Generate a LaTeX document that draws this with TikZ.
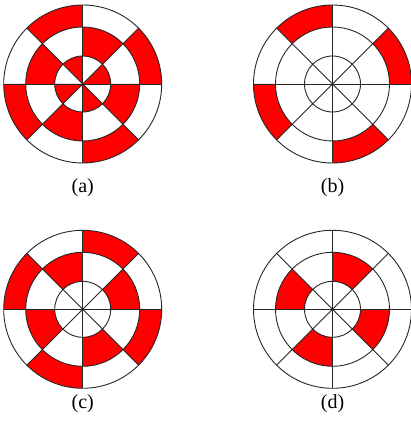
\documentclass[tikz,border=0pt]{standalone}
\usepackage{fontspec}
\setmainfont{Liberation Serif}
\usetikzlibrary{calc}

% one red piece of a ring: centre, sector number (0..7, counter-clockwise from east),
% inner radius, outer radius
\newcommand{\ringpiece}[4]{%
    \fill[piece] ($(#1)+(45*#2:#3)$)
        arc[start angle=45*#2, delta angle=45, radius=#3]
        -- ($(#1)+(45*#2+45:#4)$)
        arc[start angle=45*#2+45, delta angle=-45, radius=#4]
        -- cycle;
}
% one red piece of the inner disc
\newcommand{\discpiece}[3]{%
    \fill[piece] (#1) -- ($(#1)+(45*#2:#3)$)
        arc[start angle=45*#2, delta angle=45, radius=#3]
        -- cycle;
}

\begin{document}
\begin{tikzpicture}[
    x=1pt, y=1pt,
    piece/.style={
        fill=red
    },
    rim/.style={
        draw=black!85,
        line width=0.9pt
    },
    caption/.style={
        font=\fontsize{20}{24}\selectfont,
        inner sep=0pt
    }
]
\useasboundingbox (0,0) rectangle (410,428);

% ------------------------------------------------------------------
% Centres of the four wheels
% ------------------------------------------------------------------

\coordinate (wheela) at (82.7,344);
\coordinate (wheelb) at (332.5,344);
\coordinate (wheelc) at (82.7,118.7);
\coordinate (wheeld) at (332.5,118.7);

% ------------------------------------------------------------------
% Red pieces
% ------------------------------------------------------------------

% (a)
\foreach \s in {0,2,4,6} {\ringpiece{wheela}{\s}{57}{79}}
\foreach \s in {1,3,5,7} {\ringpiece{wheela}{\s}{28}{57}}
\foreach \s in {0,2,4,6} {\discpiece{wheela}{\s}{28}}

% (b)
\foreach \s in {0,2,4,6} {\ringpiece{wheelb}{\s}{57}{79}}

% (c)
\foreach \s in {1,3,5,7} {\ringpiece{wheelc}{\s}{57}{79}}
\foreach \s in {0,2,4,6} {\ringpiece{wheelc}{\s}{28}{57}}

% (d)
\foreach \s in {1,3,5,7} {\ringpiece{wheeld}{\s}{28}{57}}

% ------------------------------------------------------------------
% Rings and spokes
% ------------------------------------------------------------------

\foreach \w in {wheela,wheelb,wheelc,wheeld} {
    \draw[rim] (\w) circle[radius=79];
    \draw[rim] (\w) circle[radius=57];
    \draw[rim] (\w) circle[radius=28];
    \foreach \a in {0,45,90,135}
        \draw[rim] ($(\w)+(\a:79)$) -- ($(\w)+(\a+180:79)$);
}

% ------------------------------------------------------------------
% Captions
% ------------------------------------------------------------------

\node[caption] (capa) at (82.7,240) {(a)};
\node[caption] (capb) at (332.5,240) {(b)};
\node[caption] (capc) at (82.7,24) {(c)};
\node[caption] (capd) at (332.5,24) {(d)};

\end{tikzpicture}
\end{document}
